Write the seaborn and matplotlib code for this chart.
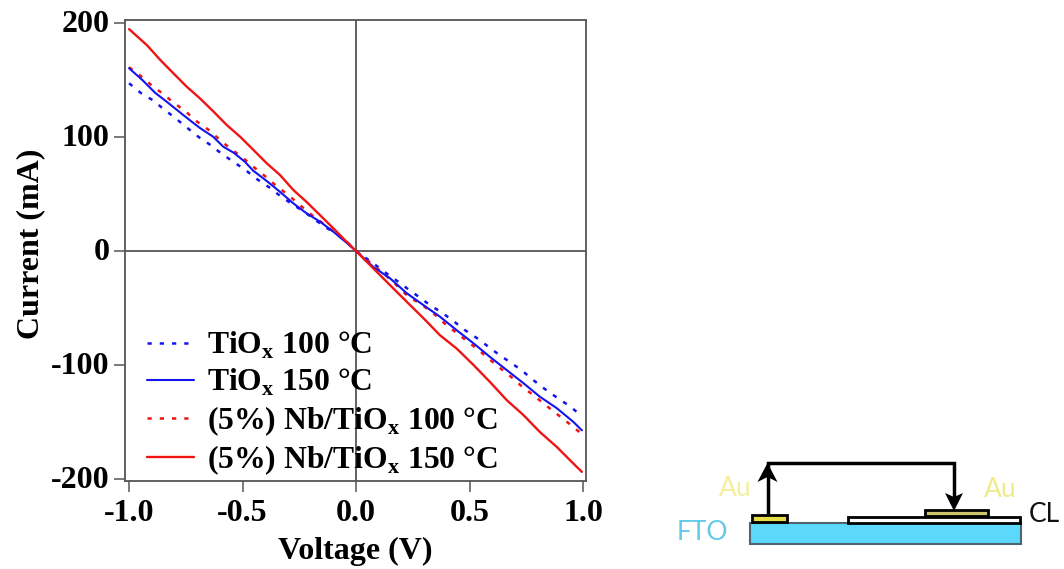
import matplotlib
matplotlib.use("Agg")
import matplotlib.pyplot as plt
from matplotlib.patches import Rectangle, Polygon
from matplotlib.transforms import ScaledTranslation
import seaborn as sns

# values
tiox100_v = [-1.0, -0.949, -0.897, -0.846, -0.795, -0.736, -0.692, -0.64, -0.589, -0.537, -0.486, -0.435, -0.383, -0.335, -0.28, -0.229, -0.178, -0.127, -0.075, -0.024, 0.0,
             0.076, 0.128, 0.179, 0.231, 0.282, 0.329, 0.378, 0.429, 0.48, 0.529, 0.583, 0.632, 0.682, 0.734, 0.781, 0.829, 0.884, 0.935, 0.99]
tiox100_i = [147.4, 139, 132.7, 124.5, 116.6, 107, 100, 93, 85, 78, 71, 63, 56, 48.6, 41, 34.6, 27, 20, 14, 5, 0,
             -10.8, -18.7, -26, -33.7, -41, -48, -54, -61.5, -69.5, -76, -84, -91.4, -98, -105.5, -113.4, -120.8, -128.6, -135.4, -144]

tiox150_v = [-1.0, -0.94, -0.885, -0.833, -0.78, -0.73, -0.687, -0.63, -0.585, -0.54, -0.49, -0.453, -0.39, -0.335, -0.277, -0.217, -0.16, -0.1, -0.04, 0.0,
             0.075, 0.15, 0.223, 0.297, 0.37, 0.443, 0.517, 0.59, 0.664, 0.737, 0.81, 0.884, 0.957, 0.995]
tiox150_i = [160.6, 150, 139, 131, 122.5, 114.6, 108, 100.5, 91.7, 86.5, 78.5, 70.6, 61, 52, 42, 33, 26, 17, 7, 0,
             -13.8, -24, -37, -47.5, -57.7, -69.5, -81, -93, -104.6, -116, -128, -138, -150, -157.5]

nb100_v = [-1.0, -0.95, -0.9, -0.85, -0.808, -0.753, -0.699, -0.646, -0.594, -0.543, -0.499, -0.449, -0.396, -0.347, -0.303, -0.251, -0.2, -0.147, -0.092, -0.041, 0.0,
           0.15, 0.23, 0.289, 0.348, 0.392, 0.44, 0.495, 0.543, 0.59, 0.642, 0.686, 0.734, 0.784, 0.83, 0.884, 0.935, 0.984]
nb100_i = [161.5, 154, 145.5, 138, 131, 123, 113.5, 106, 96.5, 88.5, 82, 73.5, 65, 56.5, 50, 41, 32.5, 24.5, 16, 8, 0,
           -24.5, -40, -47, -56, -64, -71.5, -80, -87.5, -95.5, -104, -111, -119.5, -127, -134.5, -143, -151, -159]

nb150_v = [-1.0, -0.922, -0.863, -0.804, -0.746, -0.687, -0.628, -0.57, -0.511, -0.452, -0.393, -0.335, -0.276, -0.217, -0.159, -0.1, -0.041, 0.0,
           0.075, 0.15, 0.223, 0.297, 0.37, 0.443, 0.517, 0.59, 0.664, 0.737, 0.81, 0.884, 0.957, 0.995]
nb150_i = [195, 181, 168, 156, 144.4, 134, 122.5, 110.8, 100.5, 88.8, 77, 66.8, 53.6, 43, 31.6, 20, 8, 0,
           -15, -30, -44.5, -59, -74, -85.6, -100, -115, -131, -144, -159, -172, -186.6, -194]

x_ticks = [-1.0, -0.5, 0.0, 0.5, 1.0]
y_ticks = [-200, -100, 0, 100, 200]
labels = ["TiO$_{\\mathbf{x}}$ 100 °C", "TiO$_{\\mathbf{x}}$ 150 °C",
          "(5%) Nb/TiO$_{\\mathbf{x}}$ 100 °C", "(5%) Nb/TiO$_{\\mathbf{x}}$ 150 °C"]

sns.set_theme(style="ticks")
plt.rcParams["font.family"] = ["Liberation Serif", "DejaVu Serif"]
plt.rcParams["font.weight"] = "bold"
plt.rcParams["mathtext.fontset"] = "custom"
plt.rcParams["mathtext.bf"] = "Liberation Serif:bold"
plt.rcParams["mathtext.rm"] = "Liberation Serif:bold"

W, H = 1064, 569
GREY = "#555555"
fig = plt.figure(figsize=(W / 100, H / 100), dpi=100, facecolor="white")
ax = fig.add_axes([125 / W, (H - 481) / H, 461 / W, 461 / H])

# zero lines sit under the curves
ax.axhline(0, color=GREY, lw=1.3, zorder=1)
ax.axvline(0, color=GREY, lw=1.3, zorder=1)

dash = (0, (1.7, 3.2))
sns.lineplot(x=tiox100_v, y=tiox100_i, color="#1414f0", lw=1.8, linestyle=dash, sort=False, estimator=None, ax=ax, zorder=3)
sns.lineplot(x=nb100_v, y=nb100_i, color="#f01414", lw=1.8, linestyle=dash, sort=False, estimator=None, ax=ax, zorder=3)
sns.lineplot(x=tiox150_v, y=tiox150_i, color="#1414f0", lw=1.5, sort=False, estimator=None, ax=ax, zorder=4)
sns.lineplot(x=nb150_v, y=nb150_i, color="#f01414", lw=1.7, sort=False, estimator=None, ax=ax, zorder=5)

ax.set_xlim(-1.018, 1.013)
ax.set_ylim(-202, 203)
ax.set_xticks(x_ticks)
ax.set_yticks(y_ticks)
ax.set_xticklabels([f"{t:.1f}" for t in x_ticks])
ax.set_yticklabels([str(t) for t in y_ticks])
ax.tick_params(axis="both", labelsize=23, length=8, width=1.1, color=GREY, labelcolor="black", pad=3)
ax.tick_params(axis="x", pad=5)
for lab in ax.get_yticklabels():
    lab.set_transform(lab.get_transform() + ScaledTranslation(0, 2 / 100, fig.dpi_scale_trans))
ax.set_xlabel("Voltage (V)", fontsize=23, fontweight="bold", color="black", labelpad=6.5)
ax.set_ylabel("Current (mA)", fontsize=23, fontweight="bold", color="black", labelpad=4, y=0.515)
for side in ax.spines.values():
    side.set_visible(True)
    side.set_color(GREY)
    side.set_linewidth(1.3)

lines = ax.get_lines()[2:]
handles = [lines[0], lines[2], lines[1], lines[3]]
leg = ax.legend(handles, labels, loc="lower left", bbox_to_anchor=(22 / 461, 4 / 461), frameon=False,
                fontsize=22.8, handlelength=1.48, handletextpad=0.42, labelspacing=0.18, borderpad=0, borderaxespad=0)
leg.set_zorder(6)
for t in leg.get_texts():
    t.set_color("black")

# device sketch on the right, in pixel coordinates
sk = fig.add_axes([0, 0, 1, 1], facecolor="none")
sk.set_xlim(0, W)
sk.set_ylim(H, 0)
sk.axis("off")
sk.add_patch(Rectangle((750, 522.5), 270.5, 21, fc="#5cd8fb", ec="#4f6670", lw=1.5))
sk.add_patch(Rectangle((752, 514.5), 34.5, 7.5, fc="#e6dc46", ec="black", lw=2))
sk.add_patch(Rectangle((847.5, 516.5), 172.5, 6.5, fc="white", ec="black", lw=2))
sk.add_patch(Rectangle((925, 509.5), 63, 6.5, fc="#cfc56c", ec="black", lw=2))
sk.plot([767.5, 767.5, 954, 954], [514, 462.5, 462.5, 500], color="black", lw=2.5, solid_joinstyle="miter", solid_capstyle="butt")
sk.add_patch(Polygon([[757.5, 482], [767.5, 463], [777.5, 482], [767.5, 477]], fc="black", ec="none"))
sk.add_patch(Polygon([[945, 493], [954, 511], [963, 493], [954, 497]], fc="black", ec="none"))
sketch_font = dict(family="Lato", fontweight="normal", fontsize=19, ha="center", va="center")
sk.text(735, 488, "Au", color="#f3ef9a", **sketch_font)
sk.text(1000, 489, "Au", color="#f0ea8c", **sketch_font)
sk.text(702, 533, "FTO", color="#63c9e8", **sketch_font)
sk.text(1044, 514, "CL", color="#111111", **sketch_font)

fig.savefig("out.png", dpi=100)
